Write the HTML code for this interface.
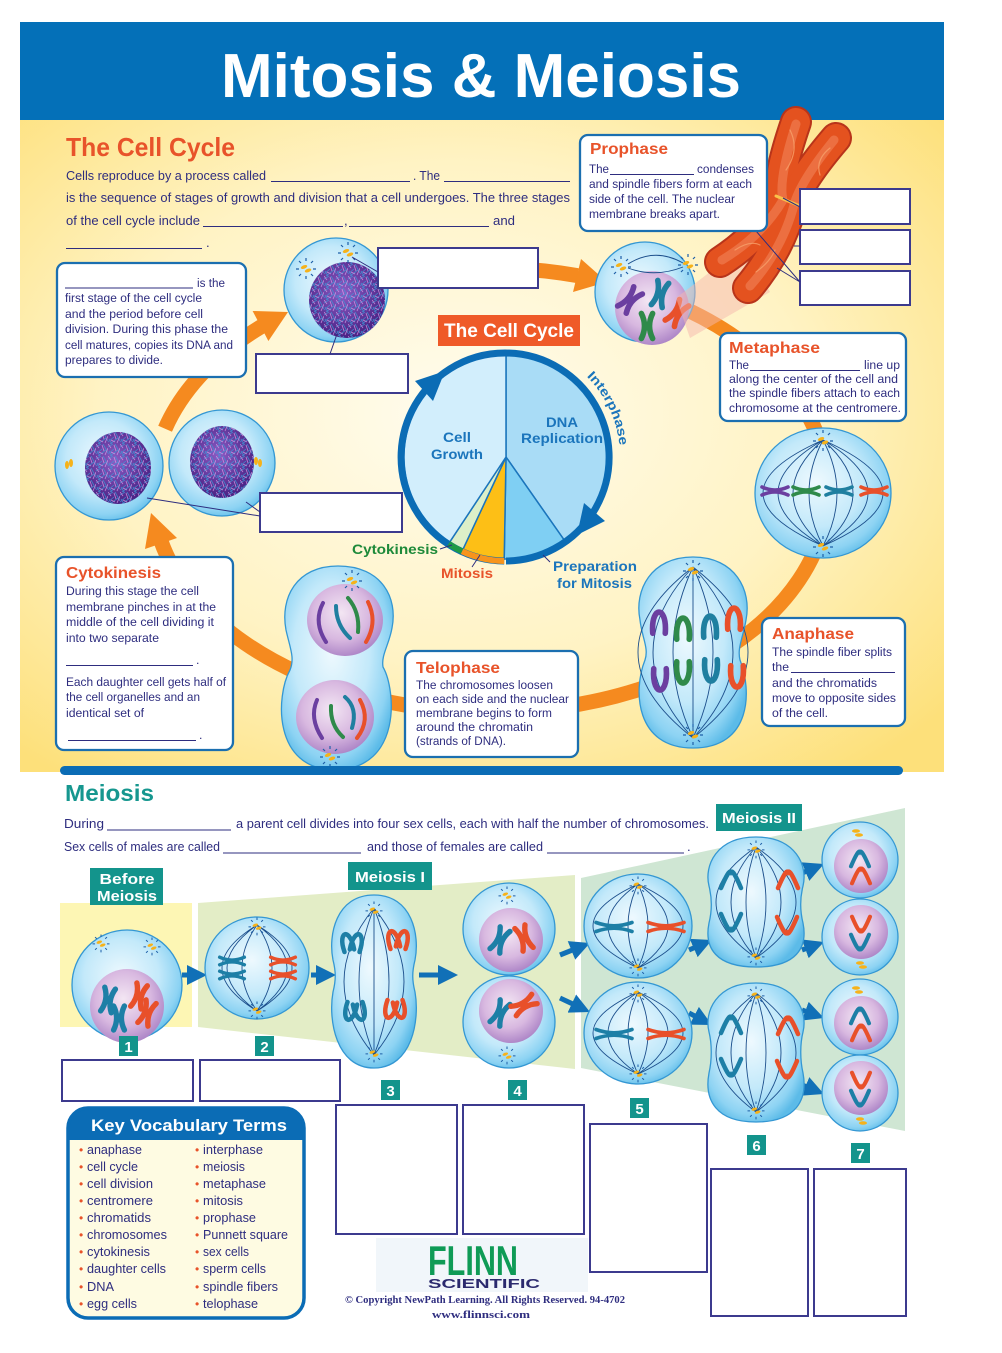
<!DOCTYPE html>
<html><head><meta charset="utf-8">
<style>
html,body{margin:0;padding:0;background:#fff;}
svg{display:block;}
text{font-family:"Liberation Sans",Arial,sans-serif;}
.b{fill:#2e2d7f;font-size:13px;}
.s{fill:#2e2d7f;font-size:12.3px;}
.h{fill:#e8532a;font-size:16px;font-weight:bold;}
.pl{fill:#1b75bc;font-size:14px;font-weight:bold;}
.fb{stroke:#1c4f8c;stroke-width:0.9;fill:none;}
.bl{stroke:#2e2d7f;stroke-width:1;fill:none;}
.lb{fill:#fff;stroke:#3c3a8e;stroke-width:2;}
.bx{fill:#fff;stroke:#1b6fb0;stroke-width:2.3;}
.cell{fill:url(#cg);stroke:#3497d3;stroke-width:1.3;}
.nuc{fill:url(#ng);}
.ch{fill:none;stroke-linecap:round;stroke-width:4.5;}
.ch3{fill:none;stroke-linecap:round;stroke-width:3.6;}
.tl{fill:#13948c;}
.tw{fill:#fff;font-weight:bold;}
.v{fill:#2e2d7f;font-size:12.5px;}
.vb{fill:#e8532a;font-size:12px;}
</style></head><body>
<svg width="1002" height="1353" viewBox="0 0 1002 1353" xmlns="http://www.w3.org/2000/svg">
<defs>
<radialGradient id="bg" cx="0.47" cy="0.45" r="0.7">
<stop offset="0" stop-color="#fffcee"/><stop offset="0.55" stop-color="#fff3c4"/><stop offset="1" stop-color="#fde07a"/>
</radialGradient>
<radialGradient id="cg" cx="0.45" cy="0.42" r="0.62">
<stop offset="0" stop-color="#eef9fe"/><stop offset="0.55" stop-color="#c3e9fa"/><stop offset="0.85" stop-color="#8dd3f3"/><stop offset="1" stop-color="#5cbbe8"/>
</radialGradient>
<radialGradient id="ng" cx="0.45" cy="0.4" r="0.62">
<stop offset="0" stop-color="#f3e6f3"/><stop offset="0.6" stop-color="#d8b8e0"/><stop offset="1" stop-color="#ac84c6"/>
</radialGradient>
<radialGradient id="dn" cx="0.45" cy="0.4" r="0.6">
<stop offset="0" stop-color="#8a5cc4"/><stop offset="1" stop-color="#4a2284"/>
</radialGradient>
<pattern id="mesh" width="12" height="12" patternUnits="userSpaceOnUse">
<path d="M0,3 L5,0 M2,12 L10,6 M1,7 L4,12 M7,0 L12,9 M0,10 L6,5" stroke="#3d9ad8" stroke-width="0.8" fill="none"/>
<path d="M6,1 L8,7 M0,0 L3,4 M9,11 L12,4 M3,8 L7,10" stroke="#d99ee8" stroke-width="0.8" fill="none"/>
</pattern>
<g id="cs">
<ellipse cx="-2" cy="-1" rx="3.4" ry="1.7" fill="#f6b21a" transform="rotate(-20 -2 -1)"/>
<ellipse cx="2" cy="2.5" rx="3.4" ry="1.7" fill="#f6b21a" transform="rotate(-20 2 2.5)"/>
<path d="M0,-10v3 M7,-7l-2,2 M-7,-7l2,2 M10,1h-3 M-10,1h3 M-7,8l2,-2 M7,8l-2,-2 M0,11v-3" stroke="#1e5fa8" stroke-width="1.2" fill="none"/>
</g>
<path id="xc" d="M-4.5,-10 Q0.5,0 -4.5,10 M4.5,-10 Q-0.5,0 4.5,10"/>
<path id="hx" d="M-13,-4 Q0,2 13,-4 M-13,4 Q0,-2 13,4"/>
<path id="hxl" d="M-18,-4.5 Q0,2 18,-4.5 M-18,4.5 Q0,-2 18,4.5"/>
<path id="cap" d="M-5,9 C-6,-4 -2,-8 0,-8 C2,-8 6,-4 5,9"/>
<path id="wcap" d="M-10,7 Q-2,-12 0,-9 Q2,-12 10,7"/>
<marker id="ba" markerWidth="4" markerHeight="4" refX="2" refY="2" orient="auto">
<path d="M0,0 L4,2 L0,4 Z" fill="#1170b7"/>
</marker>
</defs>

<!-- Header -->
<rect x="20" y="22" width="924" height="98" fill="#0470b8"/>
<text x="221" y="97" font-size="62" font-weight="bold" fill="#fff" textLength="520" lengthAdjust="spacingAndGlyphs">Mitosis &amp; Meiosis</text>

<!-- Yellow background -->
<rect x="20" y="120" width="924" height="652" fill="url(#bg)"/>

<!-- Orange ring -->
<g fill="none" stroke="#f58a1f" stroke-width="15">
<path d="M165.1,428.7 A338,222 0 0 1 261.5,326.4"/>
<path d="M374.4,281.4 A338,222 0 0 1 577.5,275.6"/>
<path d="M633,289 A338,222 0 1 1 161.1,541.5"/>
</g>
<g fill="#f58a1f">
<polygon points="288,312 268.4,341 252.6,311"/>
<polygon points="607,282 573,292 581,259"/>
<polygon points="151,513 177,538 145,549"/>
</g>

<!-- Intro text -->
<text x="66" y="156" font-size="26" font-weight="bold" fill="#e8532a" textLength="169" lengthAdjust="spacingAndGlyphs">The Cell Cycle</text>
<text class="b" x="66" y="180" textLength="200" lengthAdjust="spacingAndGlyphs">Cells reproduce by a process called</text>
<text class="b" x="413" y="180" textLength="27" lengthAdjust="spacingAndGlyphs">. The</text>
<text class="b" x="66" y="202" textLength="504" lengthAdjust="spacingAndGlyphs">is the sequence of stages of growth and division that a cell undergoes. The three stages</text>
<text class="b" x="66" y="225" textLength="134" lengthAdjust="spacingAndGlyphs">of the cell cycle include</text>
<text class="b" x="344" y="225">,</text>
<text class="b" x="493" y="225" textLength="22" lengthAdjust="spacingAndGlyphs">and</text>
<text class="b" x="206" y="247">.</text>
<path class="bl" d="M271,181.5H410 M444,181.5H570 M203,226.5H343 M349,226.5H489 M66,248.5H202"/>

<!-- Interphase box -->
<rect class="bx" x="57" y="263" width="189" height="114" rx="8"/>
<path class="bl" d="M65,288H193"/>
<text class="s" x="197" y="287" textLength="28" lengthAdjust="spacingAndGlyphs">is the</text>
<text class="s" x="65" y="302" textLength="137" lengthAdjust="spacingAndGlyphs">first stage of the cell cycle</text>
<text class="s" x="65" y="318" textLength="138" lengthAdjust="spacingAndGlyphs">and the period before cell</text>
<text class="s" x="65" y="333" textLength="163" lengthAdjust="spacingAndGlyphs">division.  During this phase the</text>
<text class="s" x="65" y="349" textLength="168" lengthAdjust="spacingAndGlyphs">cell matures, copies its DNA and</text>
<text class="s" x="65" y="364" textLength="98" lengthAdjust="spacingAndGlyphs">prepares to divide.</text>

<!-- Interphase cell -->
<circle class="cell" cx="336" cy="290" r="52"/>
<circle cx="347" cy="300" r="38" fill="url(#dn)"/>
<circle cx="347" cy="300" r="38" fill="url(#mesh)" opacity="0.8"/>
<use href="#cs" transform="translate(348,252)"/>
<use href="#cs" transform="translate(306,268)"/>
<rect class="lb" x="378" y="248" width="160" height="40"/>
<rect class="lb" x="256" y="354" width="152" height="39"/>
<path class="bl" d="M352,257 L378,272 M337,334 L330,354" stroke-width="1.5"/>

<!-- Left daughter cells -->
<circle class="cell" cx="109" cy="466" r="54"/>
<ellipse cx="118" cy="468" rx="33" ry="36" fill="url(#dn)"/>
<ellipse cx="118" cy="468" rx="33" ry="36" fill="url(#mesh)" opacity="0.8"/>
<circle class="cell" cx="222" cy="463" r="53"/>
<ellipse cx="222" cy="462" rx="32" ry="36" fill="url(#dn)"/>
<ellipse cx="222" cy="462" rx="32" ry="36" fill="url(#mesh)" opacity="0.8"/>
<g fill="#f6b21a"><ellipse cx="67" cy="465" rx="2" ry="4"/><ellipse cx="71" cy="463" rx="2" ry="4"/><ellipse cx="256" cy="461" rx="2" ry="4"/><ellipse cx="260" cy="463" rx="2" ry="4"/></g>
<rect class="lb" x="260" y="493" width="142" height="39"/>
<path class="bl" d="M147,498 L260,516 M246,502 L260,512" stroke-width="1.5"/>

<!-- Prophase cell -->
<circle class="cell" cx="645" cy="292" r="50"/>
<circle class="nuc" cx="652" cy="308" r="37"/>
<path d="M628,264 Q655,247 683,263 M628,268 Q655,278 683,267" class="fb" stroke-width="1.2"/>
<use href="#cs" transform="translate(621,266)"/>
<use href="#cs" transform="translate(688,264)"/>
<use href="#xc" class="ch" stroke="#6b3fa0" transform="translate(630,300) rotate(40) scale(1.25)"/>
<use href="#xc" class="ch" stroke="#1f7fa0" transform="translate(660,294) rotate(15) scale(1.25)"/>
<use href="#xc" class="ch" stroke="#2f8a4a" transform="translate(647,326) rotate(0) scale(1.25)"/>
<use href="#xc" class="ch" stroke="#e8502a" transform="translate(677,313) rotate(35) scale(1.25)"/>
<polygon points="676,298 690,338 770,292 744,246" fill="#f5b8ad" opacity="0.5"/>

<!-- Big chromosome -->
<g fill="none" stroke-linecap="round">
<path d="M796,122 Q776,180 781,200 Q760,236 720,262" stroke="#b8341a" stroke-width="32"/>
<path d="M836,138 Q800,180 792,205 Q780,250 748,288" stroke="#b8341a" stroke-width="32"/>
<path d="M796,122 Q776,180 781,200 Q760,236 720,262" stroke="#e4521f" stroke-width="28"/>
<path d="M836,138 Q800,180 792,205 Q780,250 748,288" stroke="#e4521f" stroke-width="28"/>
<path d="M796,124 Q778,180 783,200 Q762,236 722,260" stroke="#f28458" stroke-width="9" opacity="0.6"/>
<path d="M834,140 Q800,182 794,205 Q782,250 750,286" stroke="#f28458" stroke-width="9" opacity="0.6"/>
<path d="M790,130 Q800,150 786,170 M830,148 Q815,160 820,175 M735,250 Q750,240 760,245 M756,272 Q770,262 775,250" stroke="#f7a06a" stroke-width="1.2" opacity="0.8"/>
<path d="M776,196 L800,206" stroke="#f9c24a" stroke-width="3"/>
</g>
<rect class="lb" x="800" y="189" width="110" height="35"/>
<rect class="lb" x="800" y="230" width="110" height="34"/>
<rect class="lb" x="800" y="271" width="110" height="34"/>
<path class="bl" d="M783,198 L800,207 M794,246 L800,246 M750,224 L800,282 M777,268 L800,282" stroke-width="1.5"/>

<!-- Prophase box -->
<rect class="bx" x="580" y="135" width="187" height="96" rx="8"/>
<text class="h" x="590" y="154" textLength="78" lengthAdjust="spacingAndGlyphs">Prophase</text>
<text class="s" x="589" y="173" textLength="20" lengthAdjust="spacingAndGlyphs">The</text>
<path class="bl" d="M610,174.5H694"/>
<text class="s" x="697" y="173" textLength="57" lengthAdjust="spacingAndGlyphs">condenses</text>
<text class="s" x="589" y="188" textLength="163" lengthAdjust="spacingAndGlyphs">and spindle fibers form at each</text>
<text class="s" x="589" y="203" textLength="146" lengthAdjust="spacingAndGlyphs">side of the cell. The nuclear</text>
<text class="s" x="589" y="218" textLength="131" lengthAdjust="spacingAndGlyphs">membrane breaks apart.</text>

<!-- Metaphase box -->
<rect class="bx" x="720" y="333" width="186" height="88" rx="8"/>
<text class="h" x="729" y="353" textLength="91" lengthAdjust="spacingAndGlyphs">Metaphase</text>
<text class="s" x="729" y="369" textLength="20" lengthAdjust="spacingAndGlyphs">The</text>
<path class="bl" d="M750,370.5H860"/>
<text class="s" x="864" y="369" textLength="36" lengthAdjust="spacingAndGlyphs">line up</text>
<text class="s" x="729" y="383" textLength="169" lengthAdjust="spacingAndGlyphs">along the center of the cell  and</text>
<text class="s" x="729" y="397" textLength="171" lengthAdjust="spacingAndGlyphs">the spindle fibers attach to each</text>
<text class="s" x="729" y="412" textLength="172" lengthAdjust="spacingAndGlyphs">chromosome at the centromere.</text>

<!-- Metaphase cell -->
<ellipse class="cell" cx="823" cy="493" rx="68" ry="65"/>
<g class="fb">
<path d="M823,440 Q703,493 823,546 M823,440 Q733,493 823,546 M823,440 Q763,493 823,546 M823,440 Q795,493 823,546 M823,440 Q851,493 823,546 M823,440 Q883,493 823,546 M823,440 Q913,493 823,546 M823,440 Q943,493 823,546"/>
</g>
<use href="#cs" transform="translate(823,440)"/>
<use href="#cs" transform="translate(823,546)"/>
<use href="#hx" class="ch3" stroke="#6b3fa0" transform="translate(775,491)"/>
<use href="#hx" class="ch3" stroke="#2f8a4a" transform="translate(806,491)"/>
<use href="#hx" class="ch3" stroke="#1f7fa0" transform="translate(839,491)"/>
<use href="#hx" class="ch3" stroke="#e8502a" transform="translate(874,491)"/>

<!-- Anaphase cell -->
<path class="cell" d="M693,557 C735,557 752,590 746,620 C743,638 737,648 740,660 C752,690 752,748 693,748 C635,748 633,690 645,660 C649,648 642,638 640,620 C634,590 651,557 693,557 Z"/>
<g class="fb">
<path d="M693,567 Q583,652 693,738 M693,567 Q613,652 693,738 M693,567 Q653,652 693,738 M693,567 L693,738 M693,567 Q733,652 693,738 M693,567 Q773,652 693,738 M693,567 Q803,652 693,738"/>
</g>
<use href="#cs" transform="translate(693,570)"/>
<use href="#cs" transform="translate(693,734)"/>
<use href="#cap" class="ch" stroke="#6b3fa0" transform="translate(659,622) scale(1.25)"/>
<use href="#cap" class="ch" stroke="#2f8a4a" transform="translate(683,628) scale(1.25)"/>
<use href="#cap" class="ch" stroke="#1f7fa0" transform="translate(710,626) scale(1.25)"/>
<use href="#cap" class="ch" stroke="#e8502a" transform="translate(734,618) scale(1.25)"/>
<use href="#cap" class="ch" stroke="#6b3fa0" transform="translate(660,680) rotate(180) scale(1.25)"/>
<use href="#cap" class="ch" stroke="#2f8a4a" transform="translate(683,673) rotate(180) scale(1.25)"/>
<use href="#cap" class="ch" stroke="#1f7fa0" transform="translate(711,671) rotate(180) scale(1.25)"/>
<use href="#cap" class="ch" stroke="#e8502a" transform="translate(737,677) rotate(180) scale(1.25)"/>

<!-- Anaphase box -->
<rect class="bx" x="762" y="618" width="143" height="108" rx="8"/>
<text class="h" x="772" y="639" textLength="82" lengthAdjust="spacingAndGlyphs">Anaphase</text>
<text class="s" x="772" y="656" textLength="120" lengthAdjust="spacingAndGlyphs">The spindle fiber splits</text>
<text class="s" x="772" y="671" textLength="17" lengthAdjust="spacingAndGlyphs">the</text>
<path class="bl" d="M791,672.5H895"/>
<text class="s" x="772" y="687" textLength="105" lengthAdjust="spacingAndGlyphs">and the chromatids</text>
<text class="s" x="772" y="702" textLength="124" lengthAdjust="spacingAndGlyphs">move to opposite sides</text>
<text class="s" x="772" y="717" textLength="56" lengthAdjust="spacingAndGlyphs">of the cell.</text>

<!-- Telophase cell -->
<path class="cell" d="M338,566 C382,566 398,598 392,628 C389,645 381,655 383,667 C396,690 402,768 336,770 C272,770 276,695 290,670 C295,658 290,648 286,630 C280,598 296,566 338,566 Z"/>
<ellipse class="nuc" cx="345" cy="620" rx="38" ry="36"/>
<ellipse class="nuc" cx="335" cy="717" rx="39" ry="37"/>
<use href="#cs" transform="translate(352,580)"/>
<use href="#cs" transform="translate(330,756)"/>
<g fill="none" stroke-linecap="round" stroke-width="4">
<path d="M323,603 Q313,622 326,642" stroke="#6b3fa0"/>
<path d="M336,606 Q336,625 350,638" stroke="#1f7fa0"/>
<path d="M348,598 Q360,612 358,632" stroke="#2f8a4a"/>
<path d="M368,602 Q378,622 366,642" stroke="#e8502a"/>
<path d="M317,700 Q309,718 322,738" stroke="#6b3fa0"/>
<path d="M331,706 Q330,725 343,737" stroke="#2f8a4a"/>
<path d="M345,697 Q358,708 352,728" stroke="#1f7fa0"/>
<path d="M360,700 Q371,720 357,738" stroke="#e8502a"/>
</g>

<!-- Telophase box -->
<rect class="bx" x="405" y="651" width="173" height="106" rx="8"/>
<text class="h" x="416" y="673" textLength="84" lengthAdjust="spacingAndGlyphs">Telophase</text>
<text class="s" x="416" y="689" textLength="137" lengthAdjust="spacingAndGlyphs">The chromosomes loosen</text>
<text class="s" x="416" y="703" textLength="153" lengthAdjust="spacingAndGlyphs">on each side and the nuclear</text>
<text class="s" x="416" y="717" textLength="136" lengthAdjust="spacingAndGlyphs">membrane begins to form</text>
<text class="s" x="416" y="731" textLength="117" lengthAdjust="spacingAndGlyphs">around the chromatin</text>
<text class="s" x="416" y="745" textLength="90" lengthAdjust="spacingAndGlyphs">(strands of DNA).</text>

<!-- Cytokinesis box -->
<rect class="bx" x="56" y="557" width="177" height="193" rx="8"/>
<text class="h" x="66" y="578" textLength="95" lengthAdjust="spacingAndGlyphs">Cytokinesis</text>
<text class="s" x="66" y="595" textLength="133" lengthAdjust="spacingAndGlyphs">During this stage the cell</text>
<text class="s" x="66" y="611" textLength="150" lengthAdjust="spacingAndGlyphs">membrane pinches in at the</text>
<text class="s" x="66" y="626" textLength="148" lengthAdjust="spacingAndGlyphs">middle of the cell dividing it</text>
<text class="s" x="66" y="642" textLength="93" lengthAdjust="spacingAndGlyphs">into two separate</text>
<path class="bl" d="M66,665.5H193 M68,740.5H196"/>
<text class="s" x="196" y="664">.</text>
<text class="s" x="66" y="686" textLength="160" lengthAdjust="spacingAndGlyphs">Each daughter cell gets half of</text>
<text class="s" x="66" y="701" textLength="134" lengthAdjust="spacingAndGlyphs">the cell organelles and an</text>
<text class="s" x="66" y="717" textLength="78" lengthAdjust="spacingAndGlyphs">identical set of</text>
<text class="s" x="199" y="739">.</text>

<!-- Cell cycle pie -->
<rect x="438" y="315" width="142" height="31" fill="#ef5a28"/>
<text x="509" y="337" font-size="19" font-weight="bold" fill="#fff" text-anchor="middle" textLength="130" lengthAdjust="spacingAndGlyphs">The Cell Cycle</text>
<g stroke="#1b75bc" stroke-width="1.5">
<path d="M506,457 L506,355 A102,102 0 0 1 564.5,540.5 Z" fill="#a9dcf6"/>
<path d="M506,457 L564.5,540.5 A102,102 0 0 1 504.2,559 Z" fill="#7fcff3"/>
<path d="M506,457 L504.2,559 A102,102 0 0 1 462.9,549.4 Z" fill="#fdbf16"/>
<path d="M506,457 L462.9,549.4 A102,102 0 0 1 449.7,542.1 Z" fill="#dcefc8"/>
<path d="M506,457 L449.7,542.1 A102,102 0 0 1 506,355 Z" fill="#d2eefc"/>
</g>
<path d="M504.2,561 A104,104 0 1 1 506,561" fill="none" stroke="#0b6cb5" stroke-width="7"/>
<path d="M504.2,561 A104,104 0 0 1 462,551.3" fill="none" stroke="#f7941d" stroke-width="6"/>
<path d="M462,551.3 A104,104 0 0 1 448.6,543.7" fill="none" stroke="#1e9a46" stroke-width="6"/>
<polygon points="445,371 415,381 433,401" fill="#0b6cb5"/>
<polygon points="577,535 605,521 584,503" fill="#0b6cb5"/>
<text class="pl" x="457" y="442" text-anchor="middle" textLength="28" lengthAdjust="spacingAndGlyphs">Cell</text>
<text class="pl" x="457" y="459" text-anchor="middle" textLength="52" lengthAdjust="spacingAndGlyphs">Growth</text>
<text class="pl" x="562" y="427" text-anchor="middle" textLength="32" lengthAdjust="spacingAndGlyphs">DNA</text>
<text class="pl" x="562" y="443" text-anchor="middle" textLength="82" lengthAdjust="spacingAndGlyphs">Replication</text>
<path id="ip" d="M585.2,375 A114,114 0 0 1 619.6,466.9" fill="none"/>
<text font-size="13" font-weight="bold" fill="#1b75bc"><textPath href="#ip" startOffset="2" textLength="78" lengthAdjust="spacingAndGlyphs">Interphase</textPath></text>
<text x="352" y="554" font-size="14" font-weight="bold" fill="#1e8a3a" textLength="86" lengthAdjust="spacingAndGlyphs">Cytokinesis</text>
<text x="441" y="578" font-size="14" font-weight="bold" fill="#e8532a" textLength="52" lengthAdjust="spacingAndGlyphs">Mitosis</text>
<text class="pl" x="553" y="571" textLength="84" lengthAdjust="spacingAndGlyphs">Preparation</text>
<text class="pl" x="557" y="588" textLength="75" lengthAdjust="spacingAndGlyphs">for Mitosis</text>
<path class="bl" d="M440,549 L452,545 M472,567 L480,555 M550,562 L543,555" stroke-width="1.3"/>

<!-- Separator bar -->
<rect x="60" y="766" width="843" height="9" rx="4.5" fill="#0b6cb5"/>

<!-- Meiosis section -->
<text x="65" y="801" font-size="23" font-weight="bold" fill="#16978f" textLength="89" lengthAdjust="spacingAndGlyphs">Meiosis</text>
<text class="b" x="64" y="828" textLength="40" lengthAdjust="spacingAndGlyphs">During</text>
<text class="b" x="236" y="828" textLength="473" lengthAdjust="spacingAndGlyphs">a parent cell divides into four sex cells, each with half the number of chromosomes.</text>
<text class="b" x="64" y="851" textLength="156" lengthAdjust="spacingAndGlyphs">Sex cells of males are called</text>
<text class="b" x="367" y="851" textLength="176" lengthAdjust="spacingAndGlyphs">and those of females are called</text>
<text class="b" x="687" y="851">.</text>
<path class="bl" d="M107,830H231 M223,853H361 M547,853H684"/>

<rect x="60" y="903" width="132" height="124" fill="#fdf6b4"/>
<polygon points="198,903 575,875 575,1069 198,1027" fill="#e3edc6"/>
<polygon points="581,878 905,808 905,1131 581,1068" fill="#cfe6d3"/>

<rect class="tl" x="90" y="868" width="73" height="37"/>
<text class="tw" x="127" y="884" font-size="15" text-anchor="middle" textLength="55" lengthAdjust="spacingAndGlyphs">Before</text>
<text class="tw" x="127" y="901" font-size="15" text-anchor="middle" textLength="60" lengthAdjust="spacingAndGlyphs">Meiosis</text>
<rect class="tl" x="348" y="862" width="84" height="28"/>
<text class="tw" x="390" y="882" font-size="15" text-anchor="middle" textLength="70" lengthAdjust="spacingAndGlyphs">Meiosis I</text>
<rect class="tl" x="716" y="804" width="86" height="27"/>
<text class="tw" x="759" y="823" font-size="15" text-anchor="middle" textLength="74" lengthAdjust="spacingAndGlyphs">Meiosis II</text>

<!-- Meiosis arrows -->
<g stroke="#1170b7" stroke-width="5" marker-end="url(#ba)" fill="none">
<path d="M182,975 L197,975"/>
<path d="M311,975 L326,975"/>
<path d="M419,975 L448,975"/>
<path d="M560,955 L580.7,946.7"/>
<path d="M560,998 L580.9,1007.8"/>
<path d="M689,950 L702.8,944"/>
<path d="M689,1013 L703.1,1020.4"/>
<path d="M802,873 L814.7,867.8"/>
<path d="M802,950 L814.6,945.4"/>
<path d="M802,1010 L814.6,1014.6"/>
<path d="M802,1085 L814.7,1090.2"/>
</g>

<!-- Cell 1 -->
<circle class="cell" cx="127" cy="985" r="55"/>
<circle class="nuc" cx="127" cy="1006" r="37"/>
<use href="#cs" transform="translate(101,943) scale(0.85)"/>
<use href="#cs" transform="translate(152,946) scale(0.85)"/>
<use href="#xc" class="ch" stroke="#1d7fa6" transform="translate(108,1000) rotate(10) scale(1.2)"/>
<use href="#xc" class="ch" stroke="#1d7fa6" transform="translate(119,1018) rotate(0) scale(1.2)"/>
<use href="#xc" class="ch" stroke="#e8502a" transform="translate(139,996) rotate(15) scale(1.2)"/>
<use href="#xc" class="ch" stroke="#e8502a" transform="translate(147,1013) rotate(20) scale(1.2)"/>

<!-- Cell 2 -->
<ellipse class="cell" cx="257" cy="968" rx="52" ry="51"/>
<g class="fb"><path d="M257,925 Q187,968 257,1011 M257,925 Q197,968 257,1011 M257,925 Q227,968 257,1011 M257,925 Q287,968 257,1011 M257,925 Q317,968 257,1011 M257,925 Q327,968 257,1011"/></g>
<use href="#cs" transform="translate(257,926) scale(0.85)"/>
<use href="#cs" transform="translate(257,1010) scale(0.85)"/>
<use href="#hx" class="ch3" stroke="#1d7fa6" transform="translate(232,961) scale(0.95)"/>
<use href="#hx" class="ch3" stroke="#1d7fa6" transform="translate(232,975) scale(0.95)"/>
<use href="#hx" class="ch3" stroke="#e8502a" transform="translate(283,961) scale(0.95)"/>
<use href="#hx" class="ch3" stroke="#e8502a" transform="translate(283,975) scale(0.95)"/>

<!-- Cell 3 -->
<path class="cell" d="M374,895 C412,895 420,935 415,960 C412,972 412,980 415,992 C420,1020 412,1068 374,1068 C336,1068 328,1020 333,992 C336,980 336,972 333,960 C328,935 336,895 374,895 Z"/>
<g class="fb"><path d="M374,908 Q314,982 374,1055 M374,908 Q344,982 374,1055 M374,908 L374,1055 M374,908 Q404,982 374,1055 M374,908 Q434,982 374,1055"/></g>
<use href="#cs" transform="translate(374,910) scale(0.85)"/>
<use href="#cs" transform="translate(374,1053) scale(0.85)"/>
<use href="#cap" class="ch" stroke="#1d7fa6" transform="translate(347,942) rotate(-15)"/>
<use href="#cap" class="ch" stroke="#1d7fa6" transform="translate(357,942) rotate(15)"/>
<use href="#cap" class="ch" stroke="#e8502a" transform="translate(393,939) rotate(-15)"/>
<use href="#cap" class="ch" stroke="#e8502a" transform="translate(403,939) rotate(15)"/>
<use href="#cap" class="ch" stroke="#1d7fa6" transform="translate(350,1012) rotate(195)"/>
<use href="#cap" class="ch" stroke="#1d7fa6" transform="translate(360,1012) rotate(165)"/>
<use href="#cap" class="ch" stroke="#e8502a" transform="translate(390,1010) rotate(195)"/>
<use href="#cap" class="ch" stroke="#e8502a" transform="translate(400,1010) rotate(165)"/>

<!-- Cells 4 -->
<circle class="cell" cx="509" cy="929" r="46"/>
<circle class="nuc" cx="511" cy="940" r="32"/>
<use href="#cs" transform="translate(507,895) scale(0.85)"/>
<use href="#xc" class="ch" stroke="#1d7fa6" transform="translate(500,940) rotate(25) scale(1.2)"/>
<use href="#xc" class="ch" stroke="#e8502a" transform="translate(524,938) rotate(-20) scale(1.2)"/>
<circle class="cell" cx="509" cy="1022" r="46"/>
<circle class="nuc" cx="511" cy="1011" r="32"/>
<use href="#cs" transform="translate(507,1055) scale(0.85)"/>
<use href="#xc" class="ch" stroke="#1d7fa6" transform="translate(500,1013) rotate(25) scale(1.2)"/>
<use href="#xc" class="ch" stroke="#e8502a" transform="translate(524,1005) rotate(60) scale(1.2)"/>

<!-- Cells 5 -->
<ellipse class="cell" cx="638" cy="926" rx="54" ry="52"/>
<g class="fb"><path d="M638,884 Q548,926 638,968 M638,884 Q578,926 638,968 M638,884 Q618,926 638,968 M638,884 Q658,926 638,968 M638,884 Q698,926 638,968 M638,884 Q728,926 638,968"/></g>
<use href="#cs" transform="translate(638,885) scale(0.85)"/>
<use href="#cs" transform="translate(638,967) scale(0.85)"/>
<use href="#hxl" class="ch3" stroke="#1d7fa6" transform="translate(614,927)"/>
<use href="#hxl" class="ch3" stroke="#e8502a" transform="translate(666,927)"/>
<ellipse class="cell" cx="638" cy="1033" rx="54" ry="51"/>
<g class="fb"><path d="M638,992 Q548,1033 638,1074 M638,992 Q578,1033 638,1074 M638,992 Q618,1033 638,1074 M638,992 Q658,1033 638,1074 M638,992 Q698,1033 638,1074 M638,992 Q728,1033 638,1074"/></g>
<use href="#cs" transform="translate(638,993) scale(0.85)"/>
<use href="#cs" transform="translate(638,1073) scale(0.85)"/>
<use href="#hxl" class="ch3" stroke="#1d7fa6" transform="translate(614,1034)"/>
<use href="#hxl" class="ch3" stroke="#e8502a" transform="translate(666,1034)"/>

<!-- Cells 6 -->
<path class="cell" d="M756,837 C796,837 808,866 803,886 C800,898 800,911 803,923 C808,948 796,967 756,967 C716,967 704,948 709,923 C712,911 712,898 709,886 C704,866 716,837 756,837 Z"/>
<g class="fb"><path d="M756,847 Q676,902 756,958 M756,847 Q706,902 756,958 M756,847 Q736,902 756,958 M756,847 Q776,902 756,958 M756,847 Q806,902 756,958 M756,847 Q836,902 756,958"/></g>
<use href="#cs" transform="translate(756,849) scale(0.85)"/>
<use href="#cs" transform="translate(756,956) scale(0.85)"/>
<use href="#wcap" class="ch" stroke="#1d7fa6" transform="translate(731,881)"/>
<use href="#wcap" class="ch" stroke="#e8502a" transform="translate(788,881)"/>
<use href="#wcap" class="ch" stroke="#1d7fa6" transform="translate(731,921) rotate(180)"/>
<use href="#wcap" class="ch" stroke="#e8502a" transform="translate(787,924) rotate(180)"/>
<path class="cell" d="M756,983 C796,983 808,1012 803,1032 C800,1044 800,1060 803,1073 C808,1100 796,1122 756,1122 C716,1122 704,1100 709,1073 C712,1060 712,1044 709,1032 C704,1012 716,983 756,983 Z"/>
<g class="fb"><path d="M756,993 Q676,1053 756,1112 M756,993 Q706,1053 756,1112 M756,993 Q736,1053 756,1112 M756,993 Q776,1053 756,1112 M756,993 Q806,1053 756,1112 M756,993 Q836,1053 756,1112"/></g>
<use href="#cs" transform="translate(756,995) scale(0.85)"/>
<use href="#cs" transform="translate(756,1110) scale(0.85)"/>
<use href="#wcap" class="ch" stroke="#1d7fa6" transform="translate(731,1026)"/>
<use href="#wcap" class="ch" stroke="#e8502a" transform="translate(788,1027)"/>
<use href="#wcap" class="ch" stroke="#1d7fa6" transform="translate(731,1066) rotate(180)"/>
<use href="#wcap" class="ch" stroke="#e8502a" transform="translate(787,1068) rotate(180)"/>

<!-- Cells 7 -->
<circle class="cell" cx="860" cy="860" r="38"/>
<circle class="nuc" cx="861" cy="866" r="27"/>
<use href="#wcap" class="ch" stroke="#1d7fa6" transform="translate(860,860) scale(0.9)"/>
<use href="#wcap" class="ch" stroke="#e8502a" transform="translate(861,877) scale(0.9)"/>
<g fill="#f6b21a"><ellipse cx="856" cy="831" rx="4" ry="1.8"/><ellipse cx="859" cy="835" rx="4" ry="1.8"/></g>
<circle class="cell" cx="860" cy="937" r="38"/>
<circle class="nuc" cx="861" cy="932" r="27"/>
<use href="#wcap" class="ch" stroke="#e8502a" transform="translate(861,923) rotate(180) scale(0.9)"/>
<use href="#wcap" class="ch" stroke="#1d7fa6" transform="translate(860,941) rotate(180) scale(0.9)"/>
<g fill="#f6b21a"><ellipse cx="860" cy="963" rx="4" ry="1.8"/><ellipse cx="863" cy="967" rx="4" ry="1.8"/></g>
<circle class="cell" cx="860" cy="1017" r="38"/>
<circle class="nuc" cx="861" cy="1023" r="27"/>
<use href="#wcap" class="ch" stroke="#1d7fa6" transform="translate(860,1017) scale(0.9)"/>
<use href="#wcap" class="ch" stroke="#e8502a" transform="translate(861,1034) scale(0.9)"/>
<g fill="#f6b21a"><ellipse cx="856" cy="988" rx="4" ry="1.8"/><ellipse cx="859" cy="992" rx="4" ry="1.8"/></g>
<circle class="cell" cx="860" cy="1093" r="38"/>
<circle class="nuc" cx="861" cy="1088" r="27"/>
<use href="#wcap" class="ch" stroke="#e8502a" transform="translate(861,1079) rotate(180) scale(0.9)"/>
<use href="#wcap" class="ch" stroke="#1d7fa6" transform="translate(860,1097) rotate(180) scale(0.9)"/>
<g fill="#f6b21a"><ellipse cx="860" cy="1119" rx="4" ry="1.8"/><ellipse cx="863" cy="1123" rx="4" ry="1.8"/></g>

<!-- Number labels -->
<g class="tl">
<rect x="119" y="1036" width="19" height="20"/>
<rect x="255" y="1036" width="19" height="20"/>
<rect x="381" y="1080" width="19" height="20"/>
<rect x="508" y="1080" width="19" height="20"/>
<rect x="630" y="1098" width="19" height="20"/>
<rect x="747" y="1135" width="19" height="20"/>
<rect x="851" y="1143" width="19" height="20"/>
</g>
<g class="tw" font-size="15" text-anchor="middle">
<text x="128.5" y="1052">1</text>
<text x="264.5" y="1052">2</text>
<text x="390.5" y="1096">3</text>
<text x="517.5" y="1096">4</text>
<text x="639.5" y="1114">5</text>
<text x="756.5" y="1151">6</text>
<text x="860.5" y="1159">7</text>
</g>

<!-- Answer boxes -->
<rect class="lb" x="62" y="1060" width="131" height="41"/>
<rect class="lb" x="200" y="1060" width="140" height="41"/>
<rect class="lb" x="336" y="1105" width="121" height="129"/>
<rect class="lb" x="463" y="1105" width="121" height="129"/>
<rect class="lb" x="590" y="1124" width="117" height="148"/>
<rect class="lb" x="711" y="1169" width="97" height="147"/>
<rect class="lb" x="814" y="1169" width="92" height="147"/>

<!-- Vocabulary box -->
<rect x="68" y="1108" width="236" height="210" rx="20" fill="#fefbe2"/>
<path d="M68,1140 V1128 Q68,1108 88,1108 H284 Q304,1108 304,1128 V1140 Z" fill="#0b6cb5"/>
<rect x="68" y="1108" width="236" height="210" rx="20" fill="none" stroke="#0b6cb5" stroke-width="3.5"/>
<text class="tw" x="189" y="1131" font-size="17" text-anchor="middle" textLength="196" lengthAdjust="spacingAndGlyphs">Key Vocabulary Terms</text>
<g class="vb">
<text x="79" y="1154">•</text><text x="79" y="1171">•</text><text x="79" y="1188">•</text><text x="79" y="1205">•</text><text x="79" y="1222">•</text><text x="79" y="1239">•</text><text x="79" y="1256">•</text><text x="79" y="1273">•</text><text x="79" y="1291">•</text><text x="79" y="1308">•</text>
<text x="195" y="1154">•</text><text x="195" y="1171">•</text><text x="195" y="1188">•</text><text x="195" y="1205">•</text><text x="195" y="1222">•</text><text x="195" y="1239">•</text><text x="195" y="1256">•</text><text x="195" y="1273">•</text><text x="195" y="1291">•</text><text x="195" y="1308">•</text>
</g>
<g class="v">
<text x="87" y="1154" textLength="55" lengthAdjust="spacingAndGlyphs">anaphase</text>
<text x="87" y="1171" textLength="51" lengthAdjust="spacingAndGlyphs">cell cycle</text>
<text x="87" y="1188" textLength="66" lengthAdjust="spacingAndGlyphs">cell division</text>
<text x="87" y="1205" textLength="66" lengthAdjust="spacingAndGlyphs">centromere</text>
<text x="87" y="1222" textLength="64" lengthAdjust="spacingAndGlyphs">chromatids</text>
<text x="87" y="1239" textLength="80" lengthAdjust="spacingAndGlyphs">chromosomes</text>
<text x="87" y="1256" textLength="63" lengthAdjust="spacingAndGlyphs">cytokinesis</text>
<text x="87" y="1273" textLength="79" lengthAdjust="spacingAndGlyphs">daughter cells</text>
<text x="87" y="1291" textLength="27" lengthAdjust="spacingAndGlyphs">DNA</text>
<text x="87" y="1308" textLength="50" lengthAdjust="spacingAndGlyphs">egg cells</text>
<text x="203" y="1154" textLength="60" lengthAdjust="spacingAndGlyphs">interphase</text>
<text x="203" y="1171" textLength="42" lengthAdjust="spacingAndGlyphs">meiosis</text>
<text x="203" y="1188" textLength="63" lengthAdjust="spacingAndGlyphs">metaphase</text>
<text x="203" y="1205" textLength="40" lengthAdjust="spacingAndGlyphs">mitosis</text>
<text x="203" y="1222" textLength="53" lengthAdjust="spacingAndGlyphs">prophase</text>
<text x="203" y="1239" textLength="85" lengthAdjust="spacingAndGlyphs">Punnett square</text>
<text x="203" y="1256" textLength="46" lengthAdjust="spacingAndGlyphs">sex cells</text>
<text x="203" y="1273" textLength="63" lengthAdjust="spacingAndGlyphs">sperm cells</text>
<text x="203" y="1291" textLength="75" lengthAdjust="spacingAndGlyphs">spindle fibers</text>
<text x="203" y="1308" textLength="55" lengthAdjust="spacingAndGlyphs">telophase</text>
</g>

<!-- Logo / footer -->
<rect x="376" y="1238" width="212" height="54" fill="#f1f6fa"/>
<text x="428" y="1275" font-size="42" font-weight="bold" fill="#0f9b56" textLength="90" lengthAdjust="spacingAndGlyphs">FLINN</text>
<text x="428" y="1288" font-size="13" font-weight="bold" fill="#2b2a6e" textLength="112" lengthAdjust="spacingAndGlyphs">SCIENTIFIC</text>
<text x="345" y="1303" font-size="10.5" font-weight="bold" fill="#2e2d7f" style="font-family:'Liberation Serif',serif" textLength="280" lengthAdjust="spacingAndGlyphs">© Copyright NewPath Learning. All Rights Reserved. 94-4702</text>
<text x="432" y="1318" font-size="11" font-weight="bold" fill="#2e2d7f" style="font-family:'Liberation Serif',serif" textLength="98" lengthAdjust="spacingAndGlyphs">www.flinnsci.com</text>
</svg>
</body></html>
